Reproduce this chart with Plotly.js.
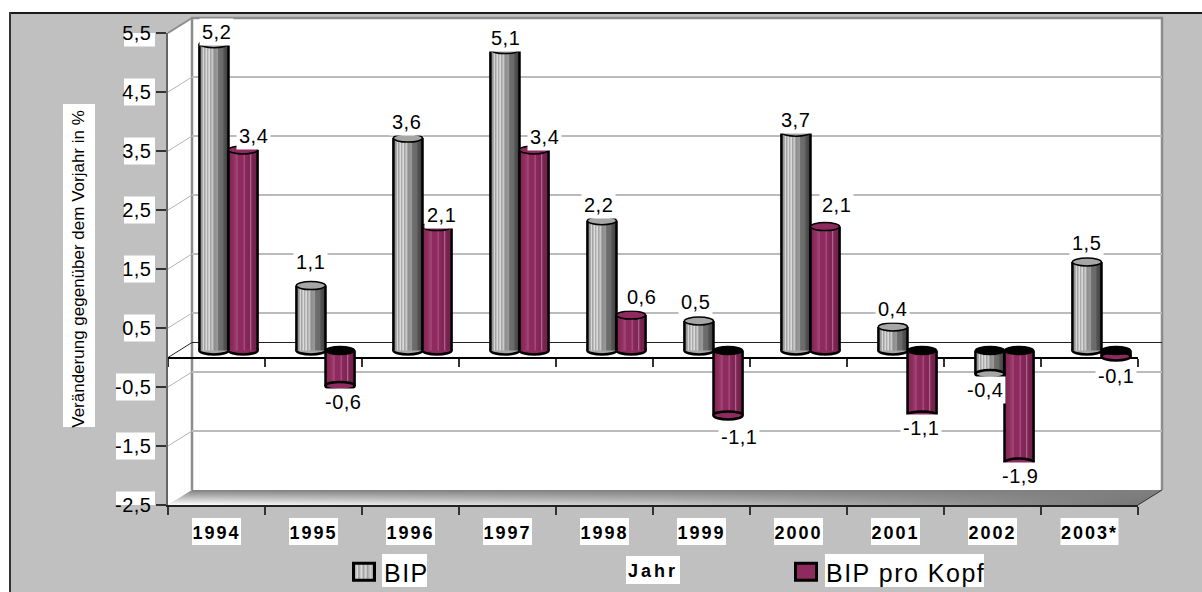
<!DOCTYPE html>
<html>
<head>
<meta charset="utf-8">
<script src="https://cdn.plot.ly/plotly-3.0.1.min.js"></script>
<style>
html,body{margin:0;padding:0;background:#fff;overflow:hidden}
.y4tick text{letter-spacing:0.5px}
.x4tick text{letter-spacing:2px}
.annotation-text{letter-spacing:0.5px}
.legendtext{letter-spacing:1.5px}
.x4title{letter-spacing:3px}
</style>
</head>
<body>
<div id="chart" style="width:1202px;height:592px"></div>
<script>
// ---------- data ----------
const years = ["1994","1995","1996","1997","1998","1999","2000","2001","2002","2003*"];
const bip = [5.2,1.1,3.6,5.1,2.2,0.5,3.7,0.4,-0.4,1.5];
const bipProKopf = [3.4,-0.6,2.1,3.4,0.6,-1.1,2.1,-1.1,-1.9,-0.1];
const yTicks = [-2.5,-1.5,-0.5,0.5,1.5,2.5,3.5,4.5,5.5];
const yTickText = ["-2,5","-1,5","-0,5","0,5","1,5","2,5","3,5","4,5","5,5"];
const bipLabelDx = [3,0,-1,1,-3,-3,0,0,-5,0];
const bipLabelDy = [-12,-24,-16,-12,-16,-19,-12,-18,16,-19];
const kopfLabelDx = [10,3,4,10,10,11,11,-1,1,0];
const kopfLabelDy = [-14,16,-12,-13,-18,22,-22,13,13,20];

// ---------- geometry helpers (pixels to paper) ----------
const W=1202,H=592;
const px=x=>x/W, py=y=>1-y/H;
const dom=(a,b)=>[px(a),px(b)];
const vdom=(top,bot)=>[py(bot),py(top)];
const yRange=[-2.5,5.5];
const xRange=[-0.5,9.5];
const unit=59;
const rectP=(x0,y0,x1,y1,fill,layer)=>({type:'rect',xref:'paper',yref:'paper',x0:px(x0),x1:px(x1),y0:py(y0),y1:py(y1),fillcolor:fill,line:{width:0},layer:layer||'below'});
const polyP=(pts,fill,line)=>({type:'path',xref:'paper',yref:'paper',layer:'below',fillcolor:fill,line:line||{width:0},
  path:pts.map((p,i)=>(i?'L':'M')+px(p[0])+','+py(p[1])).join(' ')+' Z'});

const shapes=[];
// panel + outer frame
shapes.push(rectP(10,13,1202,592,'#c0c0c0'));
shapes.push(rectP(9,12,1202,14,'#1a1a1a'));
shapes.push(rectP(9,12,11,592,'#333333'));
// walls and floor
shapes.push(polyP([[168,33],[192,18],[192,490],[168,505]],'#ffffff'));
shapes.push(rectP(192,18,1162,490,'#ffffff'));
shapes.push(polyP([[168,505],[192,490],[1162,490],[1138,505]],'rgb(1,2,3)'));
shapes.push(polyP([[168,505],[192,490],[1162,490],[1138,505]],'rgb(1,2,4)'));
shapes.push({type:'line',xref:'paper',yref:'paper',layer:'below',x0:px(192),x1:px(192),y0:py(17),y1:py(490),line:{color:'#8c8c8c',width:2.5}});
shapes.push({type:'line',xref:'paper',yref:'paper',layer:'below',x0:px(191),x1:px(1163),y0:py(18),y1:py(18),line:{color:'#8c8c8c',width:2.5}});
shapes.push({type:'line',xref:'paper',yref:'paper',layer:'below',x0:px(1162),x1:px(1162),y0:py(17),y1:py(490),line:{color:'#8c8c8c',width:2.5}});
shapes.push({type:'line',xref:'paper',yref:'paper',layer:'below',x0:px(168),x1:px(192),y0:py(33),y1:py(18),line:{color:'#8c8c8c',width:2}});
shapes.push({type:'line',xref:'paper',yref:'paper',layer:'below',x0:px(1138),x1:px(1162),y0:py(505),y1:py(490),line:{color:'#333333',width:1}});
// side-wall grid lines, front tick position to back grid position
yTicks.slice(1,-1).forEach(v=>shapes.push({type:'line',xref:'paper',yref:'y4',layer:'below',x0:px(168),x1:px(192),y0:v,y1:v+15/unit,line:{color:'#b4b4b4',width:1}}));
// side-wall link of the zero plane
shapes.push({type:'line',xref:'paper',yref:'y4',layer:'below',x0:px(168),x1:px(192),y0:0,y1:15/unit,line:{color:'#222',width:1}});
// white label plates
years.forEach((y,i)=>{
  const half=(y.length>4?29:24.5)/97;
  shapes.push({type:'rect',xref:'x4',yref:'paper',layer:'below',x0:i-half,x1:i+half,y0:py(518),y1:py(545),fillcolor:'#fff',line:{width:0}});
});
yTicks.forEach((v,i)=>{
  shapes.push({type:'rect',xref:'paper',yref:'y4',layer:'below',x0:px(yTickText[i].length>3?116:124),x1:px(155),y0:v-13.5/unit,y1:v+13.5/unit,fillcolor:'#fff',line:{width:0}});
});
shapes.push(rectP(63,104,95,427,'#fff'));
shapes.push(rectP(626,556,680,584,'#fff'));
shapes.push(rectP(382,554,427,587,'#fff'));
shapes.push(rectP(825,554,984,587,'#fff'));

// cylinder caps, driven by the data through the bar axes
const capH=4/unit, barW=0.3;
function caps(vals,x0off,fill){
  vals.forEach((v,i)=>{
    const x0=i+x0off,x1=x0+barW;
    const base={type:'circle',xref:'x3',yref:'y3',x0,x1};
    const low=Math.min(v,0), high=Math.max(v,0);
    shapes.push(Object.assign({},base,{layer:v>=0?'below':'above',y0:low-capH,y1:low+capH,fillcolor:fill,line:{color:'#000',width:2.5}}));
    if(v>=0) shapes.push(Object.assign({},base,{layer:'above',y0:high-capH,y1:high+capH,fillcolor:fill,line:{color:'#000',width:1.5}}));
    else shapes.push(Object.assign({},base,{layer:'above',y0:-capH,y1:capH,fillcolor:'#000',line:{color:'#000',width:1.5}}));
  });
}
caps(bip,-0.3,'#a6a6a6');
caps(bipProKopf,0,'#8f2a5e');

const sans='"Liberation Sans",Arial,sans-serif';
// value labels
const annotations=[];
const label=v=>String(v).replace('.',',');
function addLabels(vals,dx,dy,xoff){
  vals.forEach((v,i)=>annotations.push({xref:'x3',yref:'y3',x:i+xoff,y:v,text:label(v),showarrow:false,
    xshift:dx[i],yshift:-dy[i],xanchor:'center',yanchor:'middle',bgcolor:'#fff',borderpad:2,
    font:{family:sans,size:20,color:'#000'}}));
}
addLabels(bip,bipLabelDx,bipLabelDy,-0.15);
addLabels(bipProKopf,kopfLabelDx,kopfLabelDy,0.15);

const traces=[
 {type:'bar',name:'BIP',x:years,y:bip,xaxis:'x3',yaxis:'y3',marker:{color:'#999999',line:{color:'#000',width:2.5}}},
 {type:'bar',name:'BIP pro Kopf',x:years,y:bipProKopf,xaxis:'x3',yaxis:'y3',marker:{color:'#8f2a5e',line:{color:'#000',width:2.5}}},
 {type:'scatter',mode:'none',x:years,y:bip,xaxis:'x',yaxis:'y',showlegend:false,hoverinfo:'skip'},
 {type:'scatter',mode:'none',x:years,y:bip,xaxis:'x2',yaxis:'y2',showlegend:false,hoverinfo:'skip'},
 {type:'scatter',mode:'none',x:years,y:bip,xaxis:'x4',yaxis:'y4',showlegend:false,hoverinfo:'skip'}
];
const cat={type:'category',categoryorder:'array',categoryarray:years,range:xRange,fixedrange:true};
const layout={
 width:W,height:H,margin:{l:0,r:0,t:0,b:0,pad:0,autoexpand:false},paper_bgcolor:'#fff',plot_bgcolor:'rgba(0,0,0,0)',
 barmode:'group',bargap:0.4,bargroupgap:0,showlegend:true,
 legend:{orientation:'h',x:px(344),y:py(549),xanchor:'left',yanchor:'top',bgcolor:'rgba(0,0,0,0)',entrywidth:397,entrywidthmode:'pixels',
   font:{family:sans,size:25,color:'#000'},traceorder:'normal'},
 xaxis:Object.assign({},cat,{domain:dom(192,1162),anchor:'y',showticklabels:false,ticks:'',showgrid:false,zeroline:false}),
 yaxis:{domain:vdom(18,490),anchor:'x',range:yRange,tickvals:yTicks.slice(1,-1),showticklabels:false,ticks:'',showgrid:true,gridcolor:'#bbbbbb',gridwidth:1.5,zeroline:true,zerolinecolor:'#222',zerolinewidth:1,fixedrange:true},
 xaxis2:Object.assign({},cat,{domain:dom(168,1138),anchor:'y2',tickson:'boundaries',ticks:'outside',ticklen:8,tickcolor:'#333',tickwidth:1.5,showticklabels:false,showline:true,linecolor:'#000',linewidth:1.5,showgrid:false,zeroline:false}),
 yaxis2:{domain:vdom(300,357),anchor:'x2',range:[0,1],visible:false,fixedrange:true},
 xaxis3:Object.assign({},cat,{domain:dom(180,1150),anchor:'y3',visible:false}),
 yaxis3:{domain:vdom(26,498),anchor:'x3',range:yRange,visible:false,fixedrange:true},
 xaxis4:Object.assign({},cat,{domain:dom(168,1138),anchor:'y4',tickson:'boundaries',ticks:'outside',ticklen:8,tickcolor:'#333',tickwidth:1.5,showline:true,linecolor:'#222',linewidth:2,showgrid:false,zeroline:false,
   tickfont:{family:sans,size:18,color:'#000',weight:700},ticklabelstandoff:10,
   title:{text:'<b>Jahr</b>',standoff:23,font:{family:sans,size:18,color:'#000'}}}),
 yaxis4:{domain:vdom(33,505),anchor:'x4',range:yRange,tickvals:yTicks,ticktext:yTickText,ticks:'outside',ticklen:10,tickcolor:'#333',tickwidth:1.5,showline:true,linecolor:'#666',linewidth:2.5,showgrid:false,zeroline:false,
   tickfont:{family:sans,size:20,color:'#000'},fixedrange:true,
   title:{text:'Veränderung gegenüber dem Vorjahr in %',standoff:26,font:{family:sans,size:17,color:'#000'}}},
 shapes,annotations
};
function stops(list){return list.map(s=>'<stop offset="'+s[0]+'" stop-color="'+s[1]+'"'+(s[2]!==undefined?' stop-opacity="'+s[2]+'"':'')+'/>').join('');}
Plotly.newPlot('chart',traces,layout,{staticPlot:true,displayModeBar:false}).then(gd=>{
  const svg=gd.querySelector('svg.main-svg');
  const defs=document.createElementNS('http://www.w3.org/2000/svg','defs');
  const gray=[[0,'#7c7c7c'],[.1,'#a0a0a0'],[.14,'#d8d8d8'],[.18,'#9c9c9c'],[.24,'#e0e0e0'],[.28,'#a8a8a8'],[.34,'#e4e4e4'],[.38,'#a4a4a4'],[.46,'#cfcfcf'],[.5,'#8c8c8c'],[.62,'#9a9a9a'],[.66,'#6e6e6e'],[.8,'#6a6a6a'],[.84,'#555'],[1,'#3c3c3c']];
  const mag=[[0,'#7d2350'],[.2,'#93305f'],[.3,'#a04a78'],[.34,'#8f2a5e'],[.5,'#8f2a5e'],[.54,'#a85584'],[.58,'#8a2a5c'],[.72,'#7e2453'],[.76,'#b06a90'],[.8,'#7e2453'],[1,'#6e1f48']];
  const legendGray=[[0,'#8a8a8a'],[.2,'#e0e0e0'],[.25,'#999'],[.4,'#e8e8e8'],[.45,'#999'],[.6,'#e0e0e0'],[.65,'#999'],[.8,'#d0d0d0'],[1,'#888']];
  defs.innerHTML='<linearGradient id="gGray" x1="0" x2="1" y1="0" y2="0">'+stops(gray)+'</linearGradient>'+
    '<linearGradient id="gMag" x1="0" x2="1" y1="0" y2="0">'+stops(mag)+'</linearGradient>'+
    '<linearGradient id="gLegGray" x1="0" x2="1" y1="0" y2="0">'+stops(legendGray)+'</linearGradient>'+
    '<linearGradient id="gFloor" x1="0" x2="1" y1="0" y2="0"><stop offset="0" stop-color="#ffffff"/><stop offset=".5" stop-color="#c8c8c8"/><stop offset="1" stop-color="#747474"/></linearGradient>'+
    '<linearGradient id="gFloorTop" x1="0" x2="0" y1="0" y2="1"><stop offset="0" stop-color="#808080" stop-opacity="1"/><stop offset="1" stop-color="#808080" stop-opacity="0"/></linearGradient>';
  svg.insertBefore(defs,svg.firstChild);
  gd.querySelectorAll('.barlayer .trace.bars').forEach((t,k)=>{
    t.querySelectorAll('.point path').forEach(p=>{
      const b=p.getBBox();
      p.style.setProperty('fill','url(#'+(k?'gMag':'gGray')+')');
      p.style.setProperty('stroke-dasharray',b.height+' '+b.width+' '+b.height+' '+b.width);
    });
  });
  gd.querySelectorAll('.shapelayer path').forEach(p=>{
    const f=(p.style.fill||'').replace(/\s/g,'');
    if(f==='rgb(1,2,3)') p.style.setProperty('fill','url(#gFloor)');
    if(f==='rgb(1,2,4)') { p.style.setProperty('fill','url(#gFloorTop)'); p.style.setProperty('fill-opacity','1'); }
  });
  gd.querySelectorAll('.legend .traces').forEach((t,k)=>{
    t.querySelectorAll('.legendbar path, .legendundefined path, path.legendundefined').forEach(p=>{
      p.setAttribute('d','M10.5,8.5H-10.5V-8.5H10.5Z');
      p.style.setProperty('fill',k?'#8f2a5e':'url(#gLegGray)');
      p.style.setProperty('stroke','#000');
      p.style.setProperty('stroke-width','3px');
    });
  });
});
</script>
</body>
</html>
